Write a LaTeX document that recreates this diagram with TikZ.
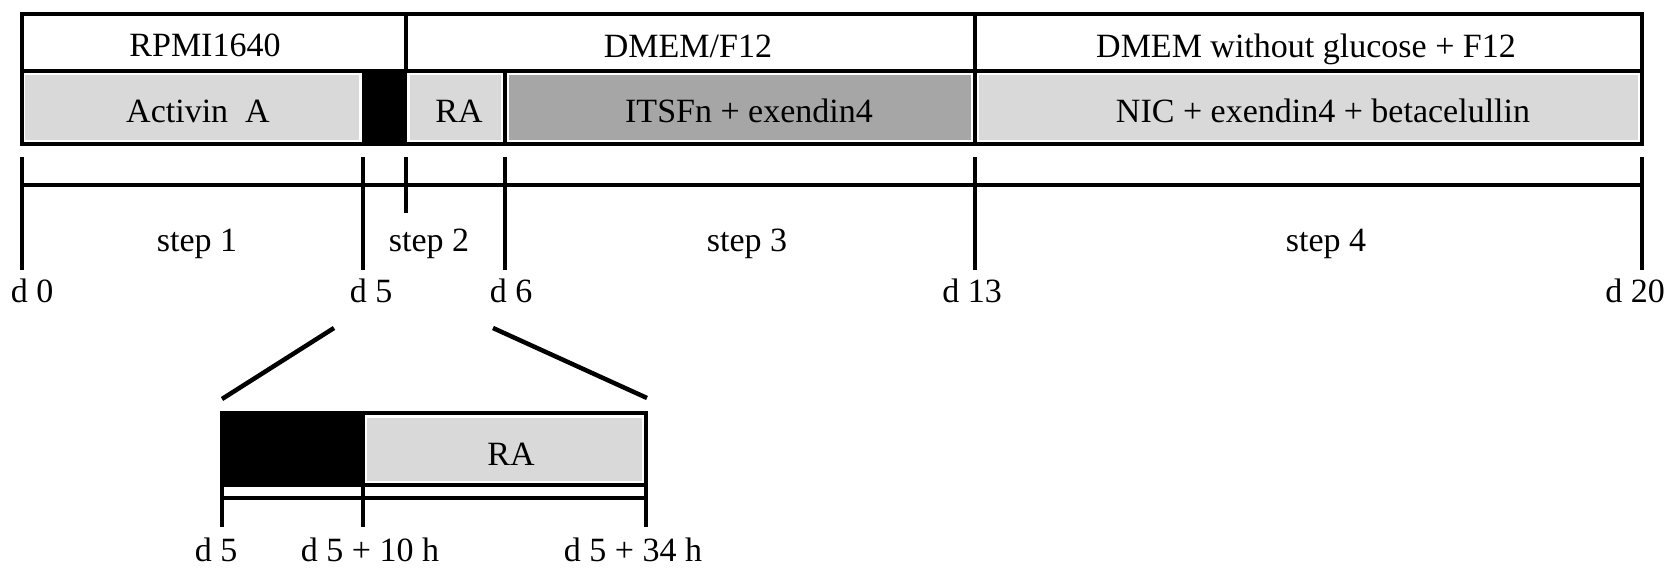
\documentclass[tikz,border=0pt]{standalone}
\usepackage{fontspec}
\setmainfont{Liberation Serif}
\definecolor{lgray}{RGB}{217,217,217}
\definecolor{dgray}{RGB}{166,166,166}
\begin{document}
\begin{tikzpicture}[x=1pt,y=-1pt,
  bar/.style={line width=4.5pt},
  txt/.style={font=\fontsize{34}{40}\selectfont, inner sep=0pt, anchor=base},
  patch/.style={fill=#1, draw=none, inner sep=0pt, rectangle}]
\useasboundingbox (0,0) rectangle (1677,575);

% ---------- top frame ----------
\node[patch=lgray, minimum width=91pt, minimum height=65pt] (rabox) at (455.5,107.5) {};
\node[patch=lgray, minimum width=334pt, minimum height=65pt] (actbox) at (192,107.5) {};
\node[patch=dgray, minimum width=462pt, minimum height=65pt] (itsbox) at (740,107.5) {};
\node[patch=lgray, minimum width=659pt, minimum height=65pt] (nicbox) at (1308.5,107.5) {};
\node[patch=black, minimum width=45pt, minimum height=73pt] (blk) at (384.5,107.5) {};

\coordinate (tl) at (22,14);
\coordinate (br) at (1642,144);
\draw[bar] (tl) rectangle (br);
\draw[bar] (22,71) coordinate (ml) -- (1642,71) coordinate (mr);
\draw[bar] (406,14) coordinate (dv1t) -- (406,71) coordinate (dv1b);
\draw[bar] (975,14) coordinate (dv2t) -- (975,144) coordinate (dv2b);
\draw[line width=3.5pt] (505,71) coordinate (sept) -- (505,144) coordinate (sepb);

\node[txt] (rpmi) at (205,57) {RPMI1640};
\node[txt] (dmem) at (688,58) {DMEM/F12};
\node[txt] (dmemg) at (1306,58) {DMEM without glucose + F12};
\node[txt] (act) at (198,122) {Activin\ \ A};
\node[txt] (ra) at (459,122) {RA};
\node[txt] (its) at (749,123) {ITSFn + exendin4};
\node[txt] (nic) at (1323,122) {NIC + exendin4 + betacelullin};

% ---------- main timeline ----------
\coordinate (t0) at (22,185);
\coordinate (t20) at (1642,185);
\draw[bar] (t0) -- (t20);
\foreach \x/\n in {22/a,363/b,505/c,975/d,1642/e}{
  \draw[bar] (\x,157) coordinate (tk\n t) -- (\x,270) coordinate (tk\n b);
}
\draw[bar] (406,157) coordinate (tkmt) -- (406,213) coordinate (tkmb);

\node[txt] (s1) at (197,251) {step 1};
\node[txt] (s2) at (429,251) {step 2};
\node[txt] (s3) at (747,251) {step 3};
\node[txt] (s4) at (1326,251) {step 4};

\node[txt] (d0) at (32,302) {d 0};
\node[txt] (d5) at (371,302) {d 5};
\node[txt] (d6) at (511,302) {d 6};
\node[txt] (d13) at (972,302) {d 13};
\node[txt] (d20) at (1635,302) {d 20};

% ---------- zoom lines ----------
\coordinate (zl1) at (334,328);
\coordinate (zl2) at (222,399);
\coordinate (zr1) at (493,328);
\coordinate (zr2) at (647,398);
\draw[bar] (zl1) -- (zl2);
\draw[bar] (zr1) -- (zr2);

% ---------- detail box ----------
\node[patch=lgray, minimum width=275pt, minimum height=63pt] (ra2box) at (504.5,449) {};
\path[fill=black] (222,413) rectangle (365,485);
\draw[bar] (222,413) coordinate (btl) rectangle (646,485) coordinate (bbr);
\node[txt] (ra2) at (511,465) {RA};

\draw[bar] (222,498) coordinate (bl) -- (646,498) coordinate (brr);
\foreach \x/\n in {222/a,363/b,646/c}{
  \draw[bar] (\x,485) coordinate (bt\n t) -- (\x,527) coordinate (bt\n b);
}
\node[txt] (e1) at (216,561) {d 5};
\node[txt] (e2) at (370,561) {d 5 + 10 h};
\node[txt] (e3) at (633,561) {d 5 + 34 h};
\end{tikzpicture}
\end{document}
